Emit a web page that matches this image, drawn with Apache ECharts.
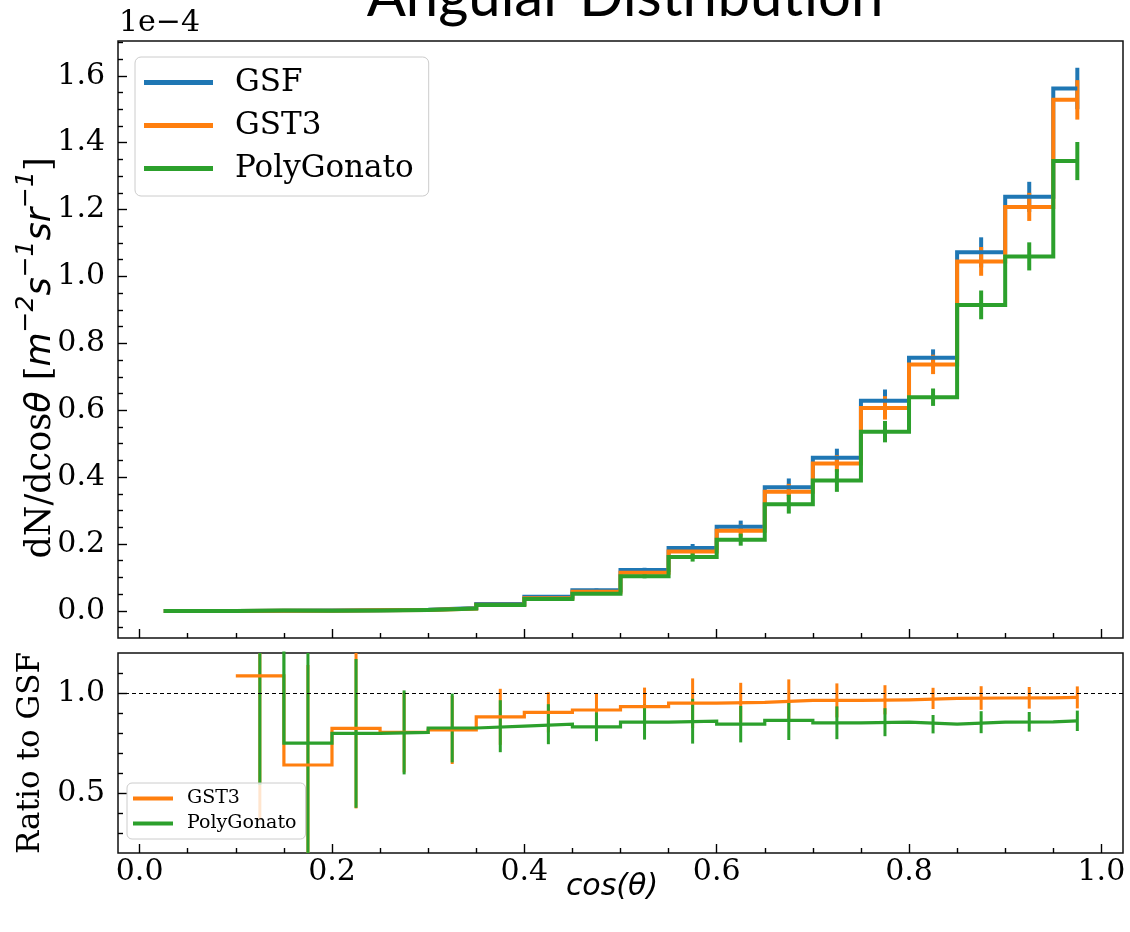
<!DOCTYPE html>
<html>
<head>
<meta charset="utf-8">
<script src="https://cdn.jsdelivr.net/npm/echarts@6/dist/echarts.min.js"></script>
<style>
  html, body { margin: 0; padding: 0; background: #fff; }
  #chart { width: 1130px; height: 932px; }
</style>
</head>
<body>
<div id="chart"></div>
<script>
// Bin centres in cos(theta), 20 bins of width 0.05
const binCenters = [0.025, 0.075, 0.125, 0.175, 0.225, 0.275, 0.325, 0.375, 0.425, 0.475,
                    0.525, 0.575, 0.625, 0.675, 0.725, 0.775, 0.825, 0.875, 0.925, 0.975];

// dN/dcos(theta) in units of 1e-4 m^-2 s^-1 sr^-1
const fluxGSF   = [0, 0, 0.0007, 0.0011, 0.0019, 0.0035, 0.0085, 0.021, 0.042, 0.062,
                   0.122, 0.188, 0.252, 0.370, 0.458, 0.628, 0.757, 1.072, 1.238, 1.562];
const errGSF    = [0, 0, 0.0004, 0.0005, 0.0007, 0.001, 0.0018, 0.003, 0.004, 0.005,
                   0.007, 0.012, 0.018, 0.026, 0.027, 0.034, 0.025, 0.045, 0.045, 0.062];
const fluxGST3  = [0, 0, 0.0008, 0.0007, 0.0016, 0.0028, 0.0069, 0.0185, 0.038, 0.057,
                   0.114, 0.178, 0.240, 0.356, 0.441, 0.607, 0.737, 1.045, 1.208, 1.528];
const errGST3   = [0, 0, 0.0005, 0.0004, 0.0006, 0.0009, 0.0016, 0.0028, 0.0037, 0.0045,
                   0.0075, 0.013, 0.018, 0.024, 0.025, 0.035, 0.029, 0.043, 0.042, 0.059];
const fluxPoly  = [0, 0, 0.0010, 0.0008, 0.0015, 0.0028, 0.0070, 0.0175, 0.0355, 0.0515,
                   0.104, 0.1615, 0.213, 0.319, 0.390, 0.536, 0.639, 0.915, 1.060, 1.345];
const errPoly   = [0, 0, 0.0006, 0.0004, 0.0005, 0.0008, 0.0014, 0.0025, 0.0035, 0.004,
                   0.0065, 0.014, 0.018, 0.028, 0.034, 0.032, 0.026, 0.043, 0.042, 0.057];

// Ratios to GSF (empty where GSF has no entries)
const ratioGST3    = [null, null, 1.086, 0.640, 0.823, 0.803, 0.815, 0.881, 0.903, 0.915,
                      0.932, 0.949, 0.953, 0.963, 0.963, 0.966, 0.973, 0.975, 0.976, 0.978];
const ratioErrGST3 = [null, null, 0.72, 0.50, 0.40, 0.20, 0.17, 0.14, 0.10, 0.081,
                      0.095, 0.124, 0.098, 0.105, 0.085, 0.073, 0.053, 0.059, 0.054, 0.055];
const ratioPoly    = [null, null, 1.45, 0.749, 0.798, 0.803, 0.825, 0.834, 0.844, 0.831,
                      0.854, 0.859, 0.844, 0.863, 0.851, 0.854, 0.844, 0.854, 0.856, 0.861];
const ratioErrPoly = [null, null, 0.91, 0.62, 0.372, 0.21, 0.172, 0.13, 0.10, 0.072,
                      0.087, 0.112, 0.091, 0.098, 0.082, 0.07, 0.046, 0.055, 0.049, 0.051];

// Axis ranges and ticks
const xRange = [-0.0225, 1.0225];
const yTopRange = [-0.081, 1.704];
const yRatioRange = [0.2, 1.2];
const xMajorTicks = [0.0, 0.2, 0.4, 0.6, 0.8, 1.0];
const xMinorTicks = [0.05, 0.1, 0.15, 0.25, 0.3, 0.35, 0.45, 0.5, 0.55, 0.65, 0.7, 0.75, 0.85, 0.9, 0.95];
const yTopMajorTicks = [0.0, 0.2, 0.4, 0.6, 0.8, 1.0, 1.2, 1.4, 1.6];
const yTopMinorTicks = [-0.05, 0.05, 0.1, 0.15, 0.25, 0.3, 0.35, 0.45, 0.5, 0.55, 0.65, 0.7, 0.75,
                        0.85, 0.9, 0.95, 1.05, 1.1, 1.15, 1.25, 1.3, 1.35, 1.45, 1.5, 1.55, 1.65, 1.7];
const yRatioMajorTicks = [0.5, 1.0];
const yRatioMinorTicks = [0.3, 0.4, 0.6, 0.7, 0.8, 0.9, 1.1];
const ratioReference = 1.0;

const COLORS = { GSF: '#1f77b4', GST3: '#ff7f0e', PolyGonato: '#2ca02c' };
const SERIF = "'DejaVu Serif', serif";
const SANS = "'DejaVu Sans', sans-serif";

// Step outline with the steps placed half-way between neighbouring centres
function stepPoints(xs, ys) {
  const pts = [];
  const n = xs.length;
  for (let i = 0; i < n; i++) {
    const left = i === 0 ? xs[0] : (xs[i - 1] + xs[i]) / 2;
    const right = i === n - 1 ? xs[n - 1] : (xs[i] + xs[i + 1]) / 2;
    if (ys[i] === null) { pts.push([left, '-']); continue; }
    pts.push([left, ys[i]], [right, ys[i]]);
  }
  return pts;
}

function errTriples(xs, ys, es) {
  const out = [];
  xs.forEach((x, i) => { if (ys[i] !== null) out.push([x, ys[i], es[i]]); });
  return out;
}

function stepSeries(name, xs, ys, axis, width) {
  return {
    name, type: 'line', xAxisIndex: axis, yAxisIndex: axis,
    data: stepPoints(xs, ys), showSymbol: false, symbol: 'none',
    connectNulls: false, clip: true, silent: true, animation: false,
    color: COLORS[name], lineStyle: { color: COLORS[name], width: width, join: 'miter', cap: 'butt' },
    emphasis: { disabled: true }
  };
}

function errorSeries(name, xs, ys, es, axis, width) {
  return {
    name, type: 'custom', xAxisIndex: axis, yAxisIndex: axis,
    data: errTriples(xs, ys, es), encode: { x: 0, y: 1 }, clip: true, silent: true, animation: false,
    color: COLORS[name],
    renderItem: function (params, api) {
      const x = api.value(0), y = api.value(1), e = api.value(2);
      const lo = api.coord([x, y - e]);
      const hi = api.coord([x, y + e]);
      return {
        type: 'line',
        shape: { x1: lo[0], y1: lo[1], x2: hi[0], y2: hi[1] },
        style: { stroke: COLORS[name], lineWidth: width, lineCap: 'butt' }
      };
    }
  };
}

function axisBase(gridIndex, range, ticks, len, position) {
  return {
    type: 'value', gridIndex, position, min: range[0], max: range[1],
    axisLine: { show: false, onZero: false },
    splitLine: { show: false },
    axisTick: { show: true, inside: true, length: len, customValues: ticks,
                lineStyle: { color: '#000', width: 1.4 } },
    axisLabel: { show: false }
  };
}

function labelled(axis, ticks, margin) {
  axis.axisLabel = {
    show: true, customValues: ticks, margin,
    formatter: v => Number(v).toFixed(1),
    fontFamily: SERIF, fontSize: 30, color: '#000'
  };
  return axis;
}

const chart = echarts.init(document.getElementById('chart'), null, { renderer: 'canvas' });

const yTop = labelled(axisBase(0, yTopRange, yTopMajorTicks, 9, 'left'), yTopMajorTicks, 13);

const yRatio = labelled(axisBase(1, yRatioRange, yRatioMajorTicks, 9, 'left'), yRatioMajorTicks, 13);
yRatio.name = 'Ratio to GSF';
yRatio.nameLocation = 'middle';
yRatio.nameRotate = 90;
yRatio.nameGap = 66;
yRatio.nameTextStyle = { fontFamily: SERIF, fontSize: 31, color: '#000' };

const xRatio = labelled(axisBase(1, xRange, xMajorTicks, 9, 'bottom'), xMajorTicks, 4);

const legendText = (size, pad) => ({ fontFamily: SERIF, fontSize: size, color: '#000', padding: [0, 0, 0, pad] });

// Flux axis title with superscripted units, rotated along the left edge
const fluxTitle = '{r|dN/dcos}{m|θ}{r| [}{m|m}{s|−2}{m|s}{s|−1}{m|sr}{s|−1}{r|]}';

const option = {
  backgroundColor: '#fff',
  animation: false,
  grid: [
    { left: 118, top: 41, width: 1005, height: 597, show: true, borderColor: '#111', borderWidth: 1.5, backgroundColor: 'transparent' },
    { left: 118, top: 653, width: 1005, height: 200, show: true, borderColor: '#111', borderWidth: 1.5, backgroundColor: 'transparent' }
  ],
  xAxis: [
    axisBase(0, xRange, xMajorTicks, 9, 'bottom'),
    xRatio,
    axisBase(0, xRange, xMinorTicks, 5, 'bottom'),
    axisBase(1, xRange, xMinorTicks, 5, 'bottom')
  ],
  yAxis: [
    yTop,
    yRatio,
    axisBase(0, yTopRange, yTopMinorTicks, 5, 'left'),
    axisBase(1, yRatioRange, yRatioMinorTicks, 5, 'left')
  ],
  legend: [
    {
      data: ['GSF', 'GST3', 'PolyGonato'], orient: 'vertical', left: 135, top: 57,
      icon: 'rect', itemWidth: 69, itemHeight: 5, itemGap: 12, selectedMode: false,
      padding: [10, 15, 12, 9],
      backgroundColor: 'rgba(255,255,255,0.8)', borderColor: '#cccccc', borderWidth: 1, borderRadius: 6,
      textStyle: legendText(31, 17)
    },
    {
      data: ['GST3', 'PolyGonato'], orient: 'vertical', left: 127, top: 783,
      icon: 'rect', itemWidth: 40, itemHeight: 4, itemGap: 6, selectedMode: false,
      padding: [6, 9, 6, 6],
      backgroundColor: 'rgba(255,255,255,0.8)', borderColor: '#cccccc', borderWidth: 1, borderRadius: 5,
      textStyle: legendText(19, 9)
    }
  ],
  graphic: [
    { type: 'text', x: 625, y: 26, silent: true,
      style: { text: 'Angular Distribution', font: '58px Lato', fill: '#000', align: 'center', verticalAlign: 'bottom' } },
    { type: 'text', x: 119, y: 38, silent: true,
      style: { text: '1e−4', font: '30px ' + SERIF, fill: '#000', align: 'left', verticalAlign: 'bottom' } },
    { type: 'text', x: 36, y: 358, rotation: Math.PI / 2, silent: true,
      style: {
        text: fluxTitle, align: 'center', verticalAlign: 'middle',
        rich: {
          r: { fontFamily: SERIF, fontSize: 35, fill: '#000', lineHeight: 44, verticalAlign: 'bottom' },
          m: { fontFamily: SANS, fontStyle: 'italic', fontSize: 35, fill: '#000', lineHeight: 44, verticalAlign: 'bottom' },
          s: { fontFamily: SANS, fontStyle: 'italic', fontSize: 25, fill: '#000', lineHeight: 36, verticalAlign: 'top' }
        }
      } },
    { type: 'text', x: 612, y: 887, silent: true,
      style: { text: 'cos(θ)', font: 'italic 30px ' + SANS, fill: '#000', align: 'center', verticalAlign: 'middle' } }
  ],
  series: [
    stepSeries('GSF', binCenters, fluxGSF, 0, 4),
    errorSeries('GSF', binCenters, fluxGSF, errGSF, 0, 4),
    stepSeries('GST3', binCenters, fluxGST3, 0, 4),
    errorSeries('GST3', binCenters, fluxGST3, errGST3, 0, 4),
    stepSeries('PolyGonato', binCenters, fluxPoly, 0, 4),
    errorSeries('PolyGonato', binCenters, fluxPoly, errPoly, 0, 4),

    stepSeries('GST3', binCenters, ratioGST3, 1, 3.2),
    errorSeries('GST3', binCenters, ratioGST3, ratioErrGST3, 1, 3),
    Object.assign(stepSeries('PolyGonato', binCenters, ratioPoly, 1, 3.2), {
      markLine: {
        silent: true, symbol: ['none', 'none'], animation: false, label: { show: false },
        lineStyle: { color: '#000', width: 1.2, type: [4, 3] },
        data: [{ yAxis: ratioReference }]
      }
    }),
    errorSeries('PolyGonato', binCenters, ratioPoly, ratioErrPoly, 1, 3)
  ]
};

chart.setOption(option);
</script>
</body>
</html>
